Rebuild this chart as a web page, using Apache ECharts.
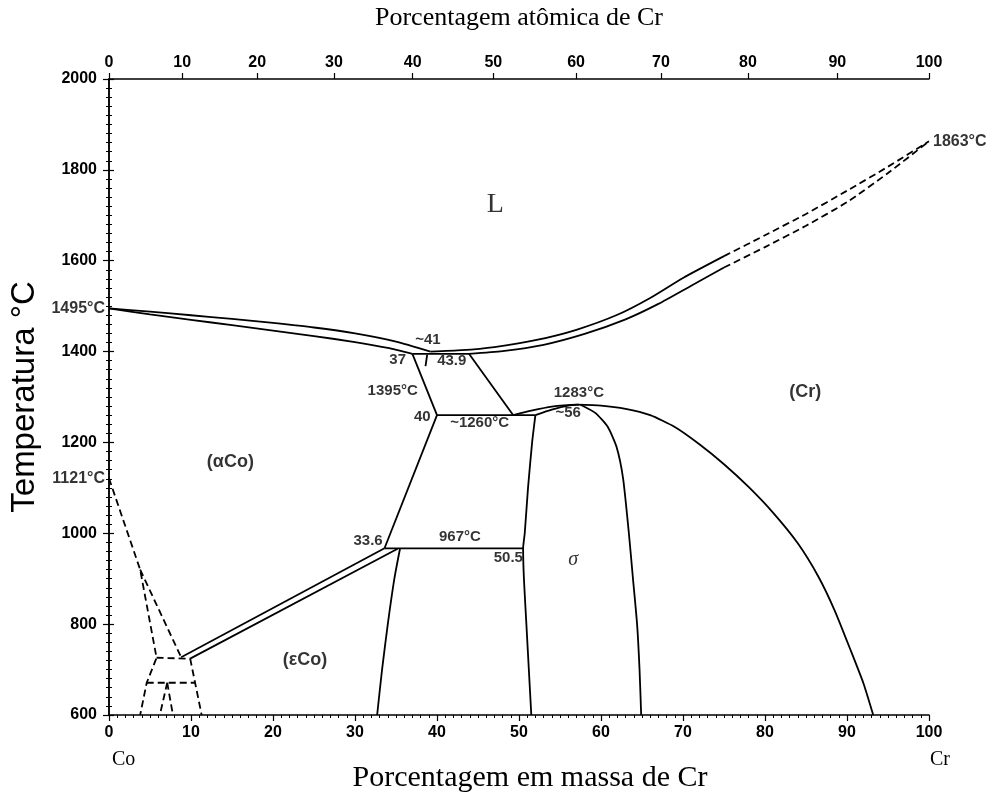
<!DOCTYPE html>
<html><head><meta charset="utf-8">
<script src="https://cdn.jsdelivr.net/npm/echarts@6/dist/echarts.min.js"></script>
<style>html,body{margin:0;padding:0;background:#fff}#c{width:993px;height:792px}</style>
</head><body><div id="c"></div>
<script>
// ---------- data ----------
const atomicTickLabels = [0,10,20,30,40,50,60,70,80,90,100];
const M_CO = 58.933, M_CR = 51.996;
function atomicToMass(a){ if(a<=0) return 0; if(a>=100) return 100; return 100*a*M_CR/(a*M_CR+(100-a)*M_CO); }
const atomicTickPos = atomicTickLabels.map(atomicToMass);

const liqLeft  = [[0,1495],[5,1488],[10,1480],[15,1472],[20,1463],[25,1453],[30,1440],[35,1422],[39.2,1400]];
const solLeft  = [[0,1495],[5,1482],[10,1470],[15,1458],[20,1446],[25,1434],[30,1421],[34,1408],[37,1395]];
const liqRightSolid = [[39.2,1400],[43,1403],[47,1410],[52,1425],[57,1448],[62,1481],[66,1518],[70,1562],[75,1610]];
const liqRightDash  = [[75,1610],[80,1656],[85,1703],[90,1754],[95,1807],[100,1863]];
const solRightSolid = [[43.9,1395],[48,1401],[53,1415],[58,1439],[63,1471],[67,1505],[71,1545],[75,1585]];
const solRightDash  = [[75,1585],[80,1630],[85,1677],[90,1729],[95,1793],[100,1863]];
const eut1395 = [[37,1395],[43.9,1395]];
const alphaUpper = [[37,1395],[40,1260]];
const lEdge = [[43.9,1395],[49.3,1260]];
const per1260 = [[40,1260],[52,1260]];
const crLeft = [[49.3,1260],[51.5,1270],[54,1279],[57,1283]];
const sigmaTop = [[52,1260],[54,1272],[56,1281],[57.3,1283]];
const crSolvus = [[57,1283],[60,1281],[63,1274],[66,1260],[69,1234],[72,1196],[75,1152],[78,1102],[81,1045],[84,978],[86.5,905],[88.5,830],[90.5,740],[92,670],[93.2,600]];
const sigmaLeft = [[52,1260],[51.6,1200],[51.1,1100],[50.7,1000],[50.5,967],[50.6,900],[50.9,800],[51.2,700],[51.5,600]];
const sigmaRight = [[57.5,1283],[59.3,1265],[60.8,1235],[61.9,1190],[62.7,1120],[63.4,1000],[63.9,900],[64.4,800],[64.7,700],[64.9,600]];
const alphaLower = [[40,1260],[33.6,967]];
const eut967 = [[33.6,967],[50.5,967]];
const epsBound = [[35.5,967],[34.8,900],[34,800],[33.3,700],[32.7,600]];
const dblUpper = [[8.8,727],[33.6,967]];
const dblLower = [[9.9,724],[35.2,966]];
const dashA = [[0,1121],[3.8,920],[5.8,726],[4.6,671],[3.8,600]];
const dashB = [[3.8,920],[8.8,727]];
const dashC = [[5.8,726],[9.9,724]];
const dashD = [[9.9,724],[10.5,671],[11.3,600]];
const dashE = [[4.6,671],[10.5,671]];
const dashF = [[7.1,671],[6.2,600]];
const dashG = [[7.1,671],[7.8,600]];
const arrow41 = [[38.8,1393],[38.6,1368]];

const annotations = [
  ['~41',38.9,1426],['37',35.2,1382],['43.9',41.8,1380],['1395°C',34.6,1314],['40',38.2,1257],
  ['~1260°C',45.2,1242],['1283°C',57.3,1310],['~56',56,1264],['33.6',31.6,984],['967°C',42.8,993],['50.5',48.7,947]
];
const regionLabels = [['(αCo)',14.8,1156],['(εCo)',23.9,722],['(Cr)',84.9,1310]];
const edgeLabels = [['1495°C',0,1495,'left'],['1121°C',0,1121,'left'],['1863°C',100,1863,'right']];

// ---------- chart ----------
const chart = echarts.init(document.getElementById('c'), null, {renderer:'canvas'});
const tickFont = {fontFamily:'Liberation Sans', fontSize:16, fontWeight:'bold', color:'#000'};
function ln(data, dashed, smooth){
  return {type:'line', data, symbol:'none', showSymbol:false, smooth: smooth||false,
    silent:true, animation:false,
    lineStyle:{color:'#000', width:1.8, type: dashed ? [7,4] : 'solid'}, clip:false};
}
const S = 0.2;
const series = [
  ln(liqLeft,false,S), ln(solLeft,false,S),
  ln(liqRightSolid,false,S), ln(liqRightDash,true,S),
  ln(solRightSolid,false,S), ln(solRightDash,true,S),
  ln(eut1395), ln(alphaUpper), ln(lEdge), ln(per1260),
  ln(crLeft,false,S), ln(sigmaTop,false,S), ln(crSolvus,false,S),
  ln(sigmaLeft,false,S), ln(sigmaRight,false,S),
  ln(alphaLower), ln(eut967), ln(epsBound,false,S), ln(dblUpper), ln(dblLower),
  ln(dashA,true), ln(dashB,true), ln(dashC,true), ln(dashD,true), ln(dashE,true), ln(dashF,true), ln(dashG,true),
  ln(arrow41),
  {type:'scatter', symbolSize:0, silent:true, animation:false, clip:false,
   data: annotations.map(a=>({value:[a[1],a[2]], label:{show:true, formatter:a[0], position:'inside', fontFamily:'Liberation Sans', fontWeight:'bold', fontSize:15, color:'#000'}}))},
  {type:'scatter', symbolSize:0, silent:true, animation:false, clip:false,
   data: regionLabels.map(a=>({value:[a[1],a[2]], label:{show:true, formatter:a[0], position:'inside', fontFamily:'Liberation Sans', fontWeight:'bold', fontSize:18, color:'#000'}}))},
  {type:'scatter', symbolSize:0, silent:true, animation:false, clip:false,
   data: [{value:[47.1,1724], label:{show:true, formatter:'L', position:'inside', fontFamily:'Liberation Serif', fontSize:28, color:'#000'}},
          {value:[56.6,942], label:{show:true, formatter:'σ', position:'inside', fontFamily:'Liberation Serif', fontStyle:'italic', fontSize:20, color:'#000'}}]},
  {type:'scatter', symbolSize:0, silent:true, animation:false, clip:false,
   data: edgeLabels.map(a=>({value:[a[1],a[2]], label:{show:true, formatter:a[0], position:a[3], distance:4, fontFamily:'Liberation Sans', fontWeight:'bold', fontSize:16, color:'#000'}}))},
];
const option = {
  backgroundColor:'#fff',
  animation:false,
  grid:{left:109, right:64, top:79, bottom:77, outerBoundsMode:'none', containLabel:false},
  xAxis:[
    {type:'value', position:'bottom', min:0, max:100, interval:10,
     name:'Porcentagem em massa de Cr', nameLocation:'middle', nameGap:48,
     nameTextStyle:{fontFamily:'Liberation Serif', fontSize:30, color:'#000', padding:[0,0,0,22]},
     axisLine:{lineStyle:{color:'#000', width:1.5}},
     axisTick:{inside:false, length:6, lineStyle:{color:'#000', width:1.2}},
     minorTick:{show:true, splitNumber:10, length:3, lineStyle:{color:'#000'}},
     axisLabel:Object.assign({margin:10}, tickFont), splitLine:{show:false}},
    {type:'value', position:'top', min:0, max:100,
     name:'Porcentagem atômica de Cr', nameLocation:'middle', nameGap:48,
     nameTextStyle:{fontFamily:'Liberation Serif', fontSize:26, color:'#000'},
     axisLine:{lineStyle:{color:'#000', width:1.5}},
     axisTick:{show:true, inside:false, length:6, customValues:atomicTickPos, lineStyle:{color:'#000', width:1.2}},
     axisLabel:Object.assign({margin:8, customValues:atomicTickPos,
       formatter:(v)=>{let bi=0,bd=1e9; atomicTickPos.forEach((p,i)=>{const d=Math.abs(p-v); if(d<bd){bd=d;bi=i;}}); return String(atomicTickLabels[bi]);}}, tickFont),
     splitLine:{show:false}}
  ],
  yAxis:[
    {type:'value', position:'left', min:600, max:2000, interval:200,
     name:'Temperatura °C', nameLocation:'middle', nameGap:68,
     nameTextStyle:{fontFamily:'Liberation Sans', fontSize:33, color:'#000'},
     axisLine:{show:true, lineStyle:{color:'#000', width:1.5}},
     axisTick:{show:true, inside:false, length:6, lineStyle:{color:'#000', width:1.2}},
     minorTick:{show:true, splitNumber:10, length:3, lineStyle:{color:'#000'}},
     axisLabel:Object.assign({margin:12, formatter:(v)=>String(v)}, tickFont), splitLine:{show:false}},
    {type:'value', position:'right', min:600, max:2000, interval:200,
     axisLine:{show:true, lineStyle:{color:'#000', width:1.5}},
     axisTick:{show:true, inside:false, length:5, lineStyle:{color:'#000', width:1.2}},
     minorTick:{show:true, splitNumber:10, length:3, lineStyle:{color:'#000'}},
     axisLabel:{show:false}, splitLine:{show:false}}
  ],
  graphic:[
    {type:'text', left:112, top:750, style:{text:'Co', font:'20px "Liberation Serif"', fill:'#000'}},
    {type:'text', left:930, top:750, style:{text:'Cr', font:'20px "Liberation Serif"', fill:'#000'}}
  ],
  series
};
chart.setOption(option);
</script></body></html>
